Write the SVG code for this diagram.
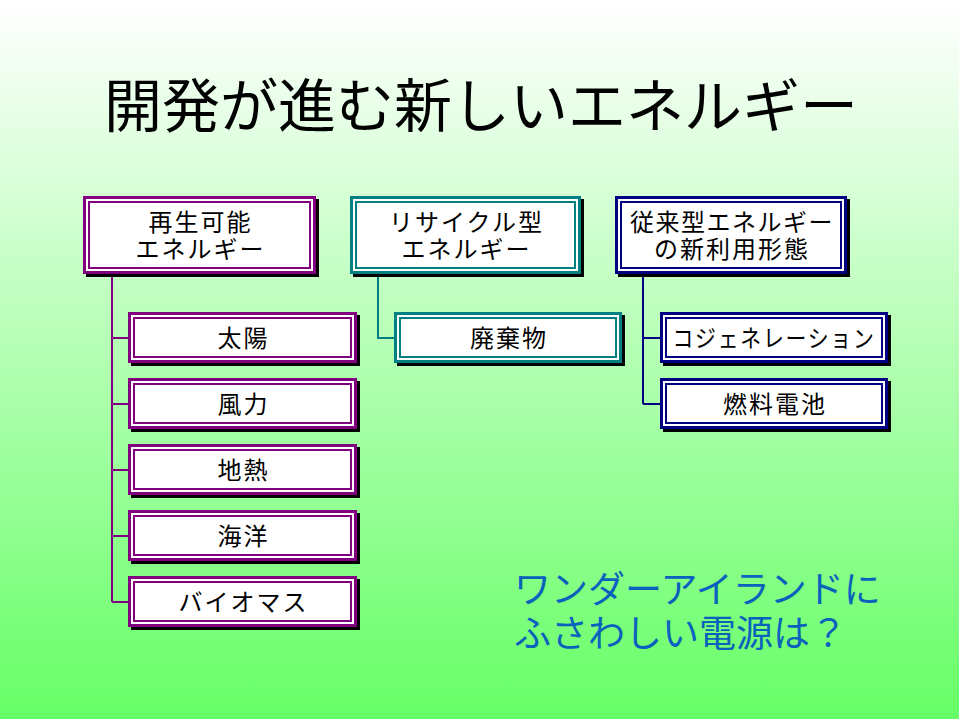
<svg xmlns="http://www.w3.org/2000/svg" width="959" height="719" viewBox="0 0 959 719">
<defs>
<linearGradient id="bg" x1="0" y1="0" x2="0" y2="1">
<stop offset="0" stop-color="#FFFFFF"/>
<stop offset="1" stop-color="#66FF66"/>
</linearGradient>
</defs>
<style>
.t{font-family:"Noto Sans CJK JP","Noto Sans",sans-serif;fill:#000;text-anchor:middle;font-size:24px;letter-spacing:2px}
.title{font-family:"Noto Sans CJK JP","Noto Sans",sans-serif;fill:#000;text-anchor:middle;font-size:58px}
.q{font-family:"Noto Sans CJK JP","Noto Sans",sans-serif;fill:#0A62BC;font-size:37px}
.sh{fill:#000}
.w{fill:#FFF}
.p{fill:#800080}
.tl{fill:#008080}
.n{fill:#000080}
.cp{stroke:#800080;stroke-width:2;fill:none}
.ct{stroke:#008080;stroke-width:2;fill:none}
.cn{stroke:#000080;stroke-width:2;fill:none}
</style>
<rect width="959" height="719" fill="url(#bg)"/>
<text class="title" x="481" y="127">開発が進む新しいエネルギー</text>

<g id="connectors">
<path class="cp" d="M112 274V602M112 338H128M112 404H128M112 470H128M112 536H128M112 602H128"/>
<path class="ct" d="M378 274V338H394"/>
<path class="cn" d="M643 274V404M643 338H660M643 404H660"/>
</g>

<g id="n-renewable">
<rect class="sh" x="86" y="199" width="233" height="78"/>
<rect class="p" x="83" y="196" width="233" height="78"/>
<rect class="w" x="86" y="199" width="227" height="72"/>
<rect class="p" x="88" y="201" width="223" height="68"/>
<rect class="w" x="90" y="203" width="219" height="64"/>
<text class="t"><tspan x="200.5" y="231">再生可能</tspan><tspan x="200.5" y="258">エネルギー</tspan></text>
</g>

<g id="n-recycle">
<rect class="sh" x="353" y="199" width="231" height="78"/>
<rect class="tl" x="350" y="196" width="231" height="78"/>
<rect class="w" x="353" y="199" width="225" height="72"/>
<rect class="tl" x="355" y="201" width="221" height="68"/>
<rect class="w" x="357" y="203" width="217" height="64"/>
<text class="t"><tspan x="466.5" y="231">リサイクル型</tspan><tspan x="466.5" y="258">エネルギー</tspan></text>
</g>

<g id="n-conventional">
<rect class="sh" x="618" y="199" width="232" height="78"/>
<rect class="n" x="615" y="196" width="232" height="78"/>
<rect class="w" x="618" y="199" width="226" height="72"/>
<rect class="n" x="620" y="201" width="222" height="68"/>
<rect class="w" x="622" y="203" width="218" height="64"/>
<text class="t"><tspan x="732" y="231" style="letter-spacing:1.5px">従来型エネルギー</tspan><tspan x="732" y="258">の新利用形態</tspan></text>
</g>

<g id="n-solar">
<rect class="sh" x="131" y="315" width="229" height="51"/>
<rect class="p" x="128" y="312" width="229" height="51"/>
<rect class="w" x="131" y="315" width="223" height="45"/>
<rect class="p" x="133" y="317" width="219" height="41"/>
<rect class="w" x="135" y="319" width="215" height="37"/>
<text class="t" x="243.5" y="346.5">太陽</text>
</g>

<g id="n-wind">
<rect class="sh" x="131" y="381" width="229" height="51"/>
<rect class="p" x="128" y="378" width="229" height="51"/>
<rect class="w" x="131" y="381" width="223" height="45"/>
<rect class="p" x="133" y="383" width="219" height="41"/>
<rect class="w" x="135" y="385" width="215" height="37"/>
<text class="t" x="243.5" y="412.5">風力</text>
</g>

<g id="n-geothermal">
<rect class="sh" x="131" y="447" width="229" height="51"/>
<rect class="p" x="128" y="444" width="229" height="51"/>
<rect class="w" x="131" y="447" width="223" height="45"/>
<rect class="p" x="133" y="449" width="219" height="41"/>
<rect class="w" x="135" y="451" width="215" height="37"/>
<text class="t" x="243.5" y="478.5">地熱</text>
</g>

<g id="n-ocean">
<rect class="sh" x="131" y="513" width="229" height="51"/>
<rect class="p" x="128" y="510" width="229" height="51"/>
<rect class="w" x="131" y="513" width="223" height="45"/>
<rect class="p" x="133" y="515" width="219" height="41"/>
<rect class="w" x="135" y="517" width="215" height="37"/>
<text class="t" x="243.5" y="544.5">海洋</text>
</g>

<g id="n-biomass">
<rect class="sh" x="131" y="579" width="229" height="51"/>
<rect class="p" x="128" y="576" width="229" height="51"/>
<rect class="w" x="131" y="579" width="223" height="45"/>
<rect class="p" x="133" y="581" width="219" height="41"/>
<rect class="w" x="135" y="583" width="215" height="37"/>
<text class="t" x="243.5" y="610.5">バイオマス</text>
</g>

<g id="n-waste">
<rect class="sh" x="397" y="315" width="228" height="51"/>
<rect class="tl" x="394" y="312" width="228" height="51"/>
<rect class="w" x="397" y="315" width="222" height="45"/>
<rect class="tl" x="399" y="317" width="218" height="41"/>
<rect class="w" x="401" y="319" width="214" height="37"/>
<text class="t" x="509" y="346.5">廃棄物</text>
</g>

<g id="n-cogen">
<rect class="sh" x="663" y="315" width="228" height="51"/>
<rect class="n" x="660" y="312" width="228" height="51"/>
<rect class="w" x="663" y="315" width="222" height="45"/>
<rect class="n" x="665" y="317" width="218" height="41"/>
<rect class="w" x="667" y="319" width="214" height="37"/>
<text class="t" x="774" y="346.5" textLength="203" lengthAdjust="spacingAndGlyphs">コジェネレーション</text>
</g>

<g id="n-fuelcell">
<rect class="sh" x="663" y="381" width="228" height="51"/>
<rect class="n" x="660" y="378" width="228" height="51"/>
<rect class="w" x="663" y="381" width="222" height="45"/>
<rect class="n" x="665" y="383" width="218" height="41"/>
<rect class="w" x="667" y="385" width="214" height="37"/>
<text class="t" x="775" y="412.5">燃料電池</text>
</g>

<g id="question">
<text class="q"><tspan x="514" y="603">ワンダーアイランドに</tspan><tspan x="514" y="647">ふさわしい電源は？</tspan></text>
</g>
</svg>
